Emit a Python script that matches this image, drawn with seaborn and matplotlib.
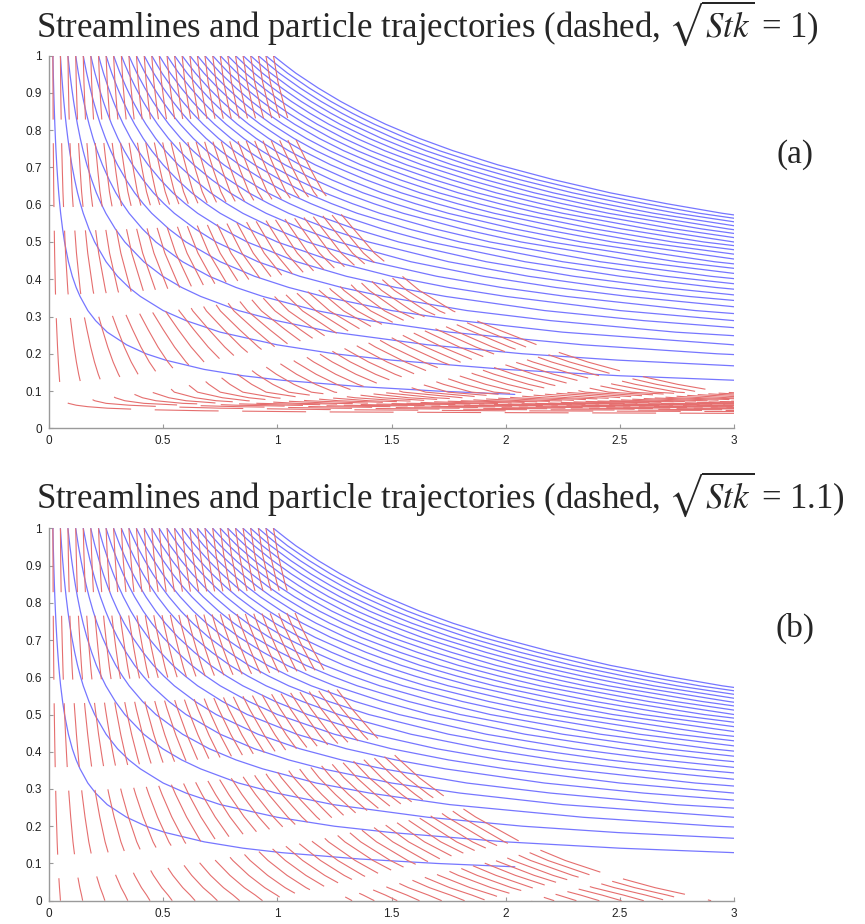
import matplotlib
matplotlib.use("Agg")
import matplotlib.pyplot as plt
import seaborn as sns
import pandas as pd
import numpy as np

# seed points on the top edge (y = 1)
seed_x = [0.017, 0.050, 0.083, 0.117, 0.150, 0.183, 0.217, 0.250, 0.283, 0.317,
          0.350, 0.383, 0.417, 0.450, 0.483, 0.517, 0.550, 0.583, 0.617, 0.650,
          0.683, 0.717, 0.750, 0.783, 0.817, 0.850, 0.883, 0.917, 0.950, 0.983]

# streamline profile: height vs. x / x_seed (same for every seed)
stream_ratio = [1, 1.05, 1.1, 1.15, 1.2, 1.3, 1.4, 1.5, 1.65, 1.8, 2, 2.25, 2.5,
                2.75, 3, 3.5, 4, 5, 6, 7, 8, 10, 12, 15, 20, 25, 30, 40, 50, 60,
                80, 100, 120]
stream_y = [1.000, 0.976, 0.953, 0.933, 0.913, 0.877, 0.845, 0.816, 0.778, 0.745,
            0.707, 0.667, 0.632, 0.603, 0.577, 0.535, 0.500, 0.447, 0.408, 0.378,
            0.354, 0.316, 0.289, 0.258, 0.224, 0.200, 0.183, 0.158, 0.141, 0.129,
            0.112, 0.100, 0.091]

# particle trajectory profile, sqrt(Stk) = 1
traj_ratio_a = [1.0, 1.02, 1.05, 1.08, 1.12, 1.17, 1.22, 1.28, 1.35, 1.45, 1.55,
                1.65, 1.8, 2.0, 2.2, 2.4, 2.6, 2.8, 3.0, 3.5, 4, 5, 7, 10, 15,
                25, 40, 70, 120, 180]
traj_y_a = [1.0, 0.93, 0.86, 0.80, 0.75, 0.69, 0.635, 0.59, 0.54, 0.47, 0.42,
            0.37, 0.315, 0.265, 0.218, 0.178, 0.145, 0.118, 0.097, 0.082, 0.074,
            0.067, 0.062, 0.058, 0.054, 0.050, 0.047, 0.044, 0.042, 0.040]

# particle trajectory profile, sqrt(Stk) = 1.1
traj_ratio_b = [1.0, 1.02, 1.05, 1.08, 1.12, 1.17, 1.22, 1.28, 1.35, 1.45, 1.55,
                1.65, 1.75, 1.9, 2.1, 2.3, 2.5, 2.7, 2.85, 2.95]
traj_y_b = [1.0, 0.93, 0.855, 0.795, 0.74, 0.68, 0.625, 0.57, 0.515, 0.445, 0.385,
            0.33, 0.285, 0.225, 0.158, 0.108, 0.068, 0.035, 0.015, 0.0]

stk_labels = ['1', '1.1']
panel_tags = ['(a)', '(b)']
x_ticks = [0, 0.5, 1, 1.5, 2, 2.5, 3]
y_ticks = [0, 0.1, 0.2, 0.3, 0.4, 0.5, 0.6, 0.7, 0.8, 0.9, 1]


def family(ratio, yvals):
    rows = []
    for k, x0 in enumerate(seed_x):
        for r, y in zip(ratio, yvals):
            rows.append((k, x0 * r, y))
    return pd.DataFrame(rows, columns=['seed', 'x', 'y'])


sns.set_theme(style='white')
plt.rcParams['font.family'] = ['Liberation Sans', 'DejaVu Sans']
plt.rcParams['mathtext.fontset'] = 'stix'
plt.rcParams['lines.scale_dashes'] = False

blue = '#7676ff'
red = '#e56e6e'

fig = plt.figure(figsize=(8.65, 9.24), dpi=100)
W, H = 865.0, 924.0
# axes boxes in pixels: left, top, right, bottom
boxes = [(49, 55.7, 734, 428.3), (49, 528.3, 734, 900.7)]
title_base = [37, 508]
tag_y = [155, 628]
traj_tables = [(traj_ratio_a, traj_y_a), (traj_ratio_b, traj_y_b)]

df_stream = family(stream_ratio, stream_y)

for i in range(2):
    l, t, r, b = boxes[i]
    ax = fig.add_axes([l / W, 1 - b / H, (r - l) / W, (b - t) / H])
    sns.lineplot(data=df_stream, x='x', y='y', units='seed', estimator=None,
                 sort=False, color=blue, lw=0.9, ax=ax, legend=False)
    df_traj = family(*traj_tables[i])
    sns.lineplot(data=df_traj, x='x', y='y', units='seed', estimator=None,
                 sort=False, color=red, lw=0.8, linestyle=(0, (46, 17)),
                 ax=ax, legend=False)
    ax.set_xlim(0, 3)
    ax.set_ylim(0, 1)
    ax.set_xticks(x_ticks)
    ax.set_xticklabels([f'{v:g}' for v in x_ticks])
    ax.set_yticks(y_ticks)
    ax.set_yticklabels([f'{v:g}' for v in y_ticks])
    ax.set_xlabel('')
    ax.set_ylabel('')
    for s in ['top', 'right']:
        ax.spines[s].set_visible(False)
    for s in ['left', 'bottom']:
        ax.spines[s].set_color('#9a9a9a')
        ax.spines[s].set_linewidth(1.0)
    ax.tick_params(direction='in', length=3, width=0.8, color='#9a9a9a',
                   labelsize=8.5, labelcolor='#222222', pad=5,
                   bottom=True, left=True)
    ax.set_facecolor('white')

    fig.text(36 / W, 1 - title_base[i] / H,
             'Streamlines and particle trajectories (dashed, $\\sqrt{Stk}$ = '
             + stk_labels[i] + ')',
             family='Liberation Serif', fontsize=25, ha='left', va='baseline')
    fig.text(795 / W, 1 - tag_y[i] / H, panel_tags[i],
             family='Liberation Serif', fontsize=24, ha='center', va='center')

fig.savefig('out.png', dpi=100, facecolor='white')
